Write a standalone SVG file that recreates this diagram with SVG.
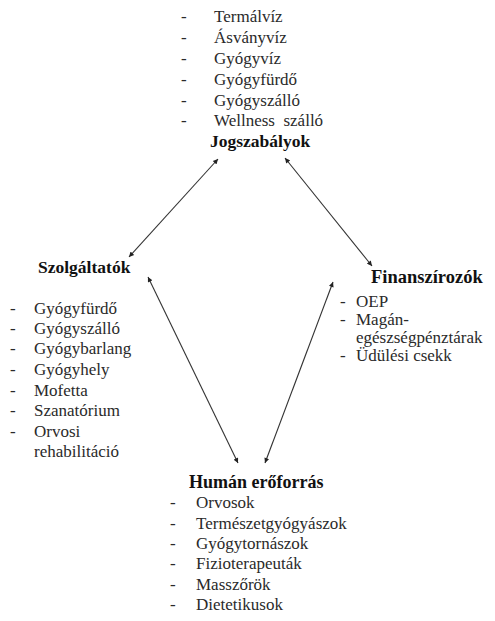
<svg xmlns="http://www.w3.org/2000/svg" width="495" height="621" viewBox="0 0 495 621">
<style>
.t{font-size:17px;fill:#2a2a2a}
.h{font-size:17.5px;font-weight:bold;fill:#111}
.c{stroke:#333;stroke-width:1.1;fill:none;marker-start:url(#a);marker-end:url(#a)}
</style>
<defs>
<marker id="a" viewBox="0 0 10 10" refX="10" refY="5" markerWidth="7" markerHeight="5" markerUnits="userSpaceOnUse" orient="auto-start-reverse">
<path d="M0,0 L10,5 L0,10 z" fill="#222"/>
</marker>
</defs>
<rect width="495" height="621" fill="#fff"/>
<g font-family="Liberation Serif, Times New Roman, serif">
<g id="jogszabalyok">
<text class="t" x="181" y="22">-</text><text class="t" x="214" y="22">Termálvíz</text>
<text class="t" x="181" y="43">-</text><text class="t" x="214" y="43">Ásványvíz</text>
<text class="t" x="181" y="64">-</text><text class="t" x="214" y="64">Gyógyvíz</text>
<text class="t" x="181" y="85">-</text><text class="t" x="214" y="85">Gyógyfürdő</text>
<text class="t" x="181" y="106">-</text><text class="t" x="214" y="106">Gyógyszálló</text>
<text class="t" x="181" y="126">-</text><text class="t" x="214" y="126" xml:space="preserve">Wellness  szálló</text>
<text class="h" x="210" y="147">Jogszabályok</text>
</g>
<g id="szolgaltatok">
<text class="h" x="38" y="273">Szolgáltatók</text>
<text class="t" x="10" y="314">-</text><text class="t" x="34" y="314">Gyógyfürdő</text>
<text class="t" x="10" y="334">-</text><text class="t" x="34" y="334">Gyógyszálló</text>
<text class="t" x="10" y="354">-</text><text class="t" x="34" y="354">Gyógybarlang</text>
<text class="t" x="10" y="375">-</text><text class="t" x="34" y="375">Gyógyhely</text>
<text class="t" x="10" y="396">-</text><text class="t" x="34" y="396">Mofetta</text>
<text class="t" x="10" y="416">-</text><text class="t" x="34" y="416">Szanatórium</text>
<text class="t" x="10" y="437">-</text><text class="t" x="34" y="437">Orvosi</text>
<text class="t" x="34" y="457">rehabilitáció</text>
</g>
<g id="finanszirozok">
<text class="h" x="371" y="283" style="font-size:18.5px">Finanszírozók</text>
<text class="t" x="340" y="307">-</text><text class="t" x="356" y="307">OEP</text>
<text class="t" x="340" y="325">-</text><text class="t" x="356" y="325">Magán-</text>
<text class="t" x="356" y="343">egészségpénztárak</text>
<text class="t" x="340" y="361">-</text><text class="t" x="356" y="361">Üdülési csekk</text>
</g>
<g id="human">
<text class="h" x="189" y="488" style="font-size:18px">Humán erőforrás</text>
<text class="t" x="170" y="508">-</text><text class="t" x="196" y="508">Orvosok</text>
<text class="t" x="170" y="529">-</text><text class="t" x="196" y="529">Természetgyógyászok</text>
<text class="t" x="170" y="549">-</text><text class="t" x="196" y="549">Gyógytornászok</text>
<text class="t" x="170" y="569">-</text><text class="t" x="196" y="569">Fizioterapeuták</text>
<text class="t" x="170" y="590">-</text><text class="t" x="196" y="590">Masszőrök</text>
<text class="t" x="170" y="610">-</text><text class="t" x="196" y="610">Dietetikusok</text>
</g>
</g>
<g id="connectors">
<line class="c" x1="218" y1="159" x2="129" y2="257"/>
<line class="c" x1="285" y1="158" x2="372" y2="266"/>
<line class="c" x1="148" y1="277" x2="238" y2="463"/>
<line class="c" x1="333" y1="282" x2="265" y2="463"/>
</g>
</svg>
